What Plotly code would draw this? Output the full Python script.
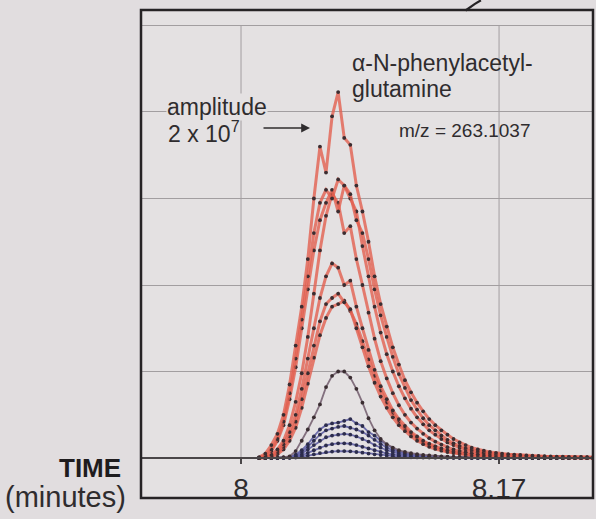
import plotly.graph_objects as go

# ---------------- data ----------------
time_min = [8.012, 8.016, 8.020, 8.024, 8.028, 8.032, 8.036, 8.040, 8.044, 8.048,
            8.052, 8.056, 8.060, 8.064, 8.068, 8.072, 8.076, 8.080, 8.084, 8.088,
            8.092, 8.096, 8.100, 8.104, 8.108, 8.112, 8.116, 8.120, 8.124, 8.128,
            8.132, 8.136, 8.140, 8.144, 8.148, 8.152, 8.156, 8.160, 8.164, 8.168,
            8.172, 8.176, 8.180, 8.184, 8.188, 8.192, 8.196, 8.200, 8.204, 8.208,
            8.212, 8.216, 8.220, 8.224, 8.228, 8.232]

# amplitudes in units of 1 grid division
red_1 = [0.01, 0.05, 0.15, 0.28, 0.5, 0.85, 1.3, 1.75, 2.3, 3.0,
         3.6, 3.3, 3.95, 4.23, 3.7, 3.62, 3.15, 2.85, 2.5, 2.1,
         1.78, 1.52, 1.28, 1.08, 0.9, 0.76, 0.64, 0.54, 0.45, 0.38,
         0.32, 0.27, 0.22, 0.18, 0.15, 0.12, 0.1, 0.085, 0.07, 0.06,
         0.05, 0.045, 0.04, 0.035, 0.03, 0.027, 0.024, 0.021, 0.019, 0.017,
         0.015, 0.014, 0.013, 0.012, 0.011, 0.01]
red_2 = [0.005, 0.03, 0.1, 0.22, 0.42, 0.75, 1.15, 1.6, 2.1, 2.6,
         2.95, 3.1, 3.0, 3.22, 3.15, 3.05, 2.75, 2.6, 2.3, 1.95,
         1.65, 1.4, 1.17, 0.97, 0.81, 0.67, 0.56, 0.46, 0.38, 0.32,
         0.26, 0.21, 0.17, 0.14, 0.115, 0.095, 0.08, 0.066, 0.055, 0.046,
         0.04, 0.035, 0.03, 0.026, 0.023, 0.02, 0.018, 0.016, 0.014, 0.013,
         0.012, 0.011, 0.01, 0.009, 0.008, 0.008]
red_3 = [0.004, 0.02, 0.08, 0.2, 0.38, 0.68, 1.05, 1.5, 1.95, 2.4,
         2.75, 2.95, 3.1, 2.85, 3.15, 3.0, 2.85, 2.45, 2.1, 1.75,
         1.45, 1.2, 1.0, 0.83, 0.69, 0.57, 0.47, 0.39, 0.32, 0.27,
         0.22, 0.18, 0.15, 0.12, 0.1, 0.08, 0.066, 0.055, 0.046, 0.039,
         0.033, 0.028, 0.024, 0.021, 0.018, 0.016, 0.014, 0.013, 0.012, 0.011,
         0.01, 0.009, 0.008, 0.008, 0.007, 0.007]
red_4 = [0.002, 0.01, 0.04, 0.1, 0.2, 0.38, 0.65, 0.98, 1.4, 1.9,
         2.4, 2.8, 3.05, 2.95, 2.6, 2.68, 2.3, 2.0, 1.68, 1.38,
         1.12, 0.92, 0.75, 0.61, 0.5, 0.41, 0.34, 0.28, 0.23, 0.19,
         0.155, 0.125, 0.1, 0.082, 0.067, 0.055, 0.045, 0.037, 0.031, 0.026,
         0.022, 0.019, 0.016, 0.014, 0.012, 0.011, 0.01, 0.009, 0.008, 0.007,
         0.007, 0.006, 0.006, 0.005, 0.005, 0.005]
red_5 = [0.002, 0.008, 0.03, 0.08, 0.16, 0.3, 0.5, 0.8, 1.15, 1.5,
         1.85, 2.1, 2.25, 2.2, 2.0, 2.05, 1.75, 1.5, 1.25, 1.02,
         0.83, 0.68, 0.55, 0.45, 0.37, 0.3, 0.25, 0.2, 0.165, 0.135,
         0.11, 0.09, 0.073, 0.06, 0.05, 0.041, 0.034, 0.028, 0.024, 0.02,
         0.017, 0.015, 0.013, 0.011, 0.01, 0.009, 0.008, 0.007, 0.007, 0.006,
         0.006, 0.005, 0.005, 0.005, 0.004, 0.004]
red_6 = [0.001, 0.005, 0.02, 0.06, 0.13, 0.25, 0.42, 0.68, 0.98, 1.3,
         1.58, 1.78, 1.85, 1.9, 1.8, 1.72, 1.5, 1.28, 1.06, 0.87,
         0.71, 0.58, 0.47, 0.38, 0.31, 0.25, 0.2, 0.16, 0.13, 0.105,
         0.085, 0.07, 0.057, 0.047, 0.039, 0.032, 0.027, 0.022, 0.019, 0.016,
         0.014, 0.012, 0.01, 0.009, 0.008, 0.007, 0.006, 0.006, 0.005, 0.005,
         0.004, 0.004, 0.004, 0.003, 0.003, 0.003]
red_7 = [0.001, 0.004, 0.015, 0.045, 0.1, 0.2, 0.35, 0.58, 0.86, 1.16,
         1.42, 1.62, 1.75, 1.78, 1.82, 1.7, 1.55, 1.35, 1.14, 0.95,
         0.78, 0.64, 0.52, 0.42, 0.34, 0.28, 0.23, 0.18, 0.15, 0.12,
         0.097, 0.079, 0.064, 0.052, 0.043, 0.035, 0.029, 0.024, 0.02, 0.017,
         0.014, 0.012, 0.01, 0.009, 0.008, 0.007, 0.006, 0.006, 0.005, 0.005,
         0.004, 0.004, 0.004, 0.003, 0.003, 0.003]
gray_1 = [0.0, 0.0, 0.002, 0.005, 0.01, 0.02, 0.08, 0.2, 0.33, 0.47,
          0.62, 0.82, 0.95, 1.0, 1.0, 0.93, 0.8, 0.64, 0.46, 0.32,
          0.22, 0.16, 0.12, 0.09, 0.07, 0.055, 0.045, 0.036, 0.03, 0.025,
          0.02, 0.017, 0.014, 0.012, 0.01, 0.009, 0.008, 0.007, 0.006, 0.005,
          0.005, 0.004, 0.004, 0.003, 0.003, 0.003, 0.003, 0.002, 0.002, 0.002,
          0.002, 0.002, 0.002, 0.002, 0.002, 0.002]
blue_1 = [0.0, 0.0, 0.0, 0.002, 0.005, 0.01, 0.04, 0.09, 0.16, 0.25,
          0.33, 0.38, 0.4, 0.41, 0.43, 0.45, 0.4, 0.37, 0.3, 0.26,
          0.2, 0.15, 0.11, 0.08, 0.06, 0.045, 0.035, 0.028, 0.022, 0.018,
          0.015, 0.012, 0.01, 0.008, 0.007, 0.006, 0.005, 0.004, 0.004, 0.003,
          0.003, 0.003, 0.002, 0.002, 0.002, 0.002, 0.002, 0.002, 0.001, 0.001,
          0.001, 0.001, 0.001, 0.001, 0.001, 0.001]
blue_2 = [0.0, 0.0, 0.0, 0.001, 0.004, 0.008, 0.03, 0.07, 0.13, 0.2,
          0.27, 0.32, 0.34, 0.36, 0.37, 0.35, 0.33, 0.3, 0.26, 0.21,
          0.16, 0.12, 0.09, 0.07, 0.05, 0.04, 0.03, 0.024, 0.019, 0.015,
          0.012, 0.01, 0.008, 0.007, 0.006, 0.005, 0.004, 0.003, 0.003, 0.003,
          0.002, 0.002, 0.002, 0.002, 0.002, 0.001, 0.001, 0.001, 0.001, 0.001,
          0.001, 0.001, 0.001, 0.001, 0.001, 0.001]
blue_3 = [0.0, 0.0, 0.0, 0.001, 0.003, 0.006, 0.02, 0.05, 0.1, 0.15,
          0.2, 0.24, 0.26, 0.27, 0.28, 0.27, 0.25, 0.22, 0.19, 0.15,
          0.12, 0.09, 0.07, 0.05, 0.04, 0.03, 0.024, 0.019, 0.015, 0.012,
          0.01, 0.008, 0.006, 0.005, 0.004, 0.004, 0.003, 0.003, 0.002, 0.002,
          0.002, 0.002, 0.001, 0.001, 0.001, 0.001, 0.001, 0.001, 0.001, 0.001,
          0.001, 0.001, 0.001, 0.001, 0.001, 0.001]
blue_4 = [0.0, 0.0, 0.0, 0.0, 0.002, 0.004, 0.012, 0.03, 0.06, 0.09,
          0.12, 0.145, 0.16, 0.17, 0.17, 0.165, 0.15, 0.13, 0.11, 0.09,
          0.07, 0.055, 0.042, 0.032, 0.025, 0.02, 0.016, 0.012, 0.01, 0.008,
          0.006, 0.005, 0.004, 0.003, 0.003, 0.002, 0.002, 0.002, 0.001, 0.001,
          0.001, 0.001, 0.001, 0.001, 0.001, 0.001, 0.001, 0.001, 0.001, 0.001,
          0.001, 0.001, 0.001, 0.001, 0.001, 0.001]
blue_5 = [0.0, 0.0, 0.0, 0.0, 0.001, 0.002, 0.006, 0.015, 0.028, 0.043,
          0.057, 0.068, 0.075, 0.08, 0.08, 0.078, 0.07, 0.062, 0.052, 0.043,
          0.034, 0.027, 0.021, 0.016, 0.012, 0.009, 0.007, 0.006, 0.005, 0.004,
          0.003, 0.003, 0.002, 0.002, 0.002, 0.001, 0.001, 0.001, 0.001, 0.001,
          0.001, 0.001, 0.001, 0.001, 0.001, 0.001, 0.001, 0.001, 0.001, 0.001,
          0.001, 0.001, 0.001, 0.001, 0.001, 0.001]

blue_series = [blue_5, blue_4, blue_3, blue_2, blue_1]
gray_series = [gray_1]
red_series = [red_7, red_6, red_5, red_4, red_3, red_2, red_1]

tick_vals = [8, 8.17]
tick_text = ["8", "8.17"]
grid_levels = [1, 2, 3, 4, 5]

# ---------------- styling ----------------
FONT = "Arial, Liberation Sans, Helvetica, sans-serif"
PAPER_BG = "#e1dddf"
PLOT_BG = "#e4e1e2"
GRID = "#a29ea0"
TXT = "#2f2c2e"
DOT = "#3a2d31"

fig = go.Figure()

def add_curve(ys, line_color, dot_color, width):
    fig.add_trace(go.Scatter(
        x=time_min, y=ys, mode="lines+markers",
        line=dict(color=line_color, width=width),
        marker=dict(color=dot_color, size=3.8, line=dict(width=0)),
        showlegend=False, hoverinfo="skip"))

for ys in blue_series:
    add_curve(ys, "rgba(96,96,165,0.9)", "#2c2c4c", 1.8)
for ys in gray_series:
    add_curve(ys, "rgba(120,100,115,0.9)", DOT, 1.8)
for ys in red_series:
    add_curve(ys, "rgba(226,96,80,0.8)", DOT, 3.0)

x_min, x_max = 7.9341, 8.2319
y_min, y_max = -0.462, 5.179

fig.update_layout(
    width=596, height=519,
    margin=dict(l=141, r=3, t=10, b=21),
    paper_bgcolor=PAPER_BG, plot_bgcolor=PLOT_BG,
    font=dict(family=FONT, color=TXT),
    xaxis=dict(range=[x_min, x_max], showgrid=False, zeroline=False,
               anchor="free", position=(0.462 / (y_max - y_min)),
               showline=True, linecolor="#4a4648", linewidth=2,
               tickvals=tick_vals, ticktext=tick_text,
               ticks="outside", ticklen=5, tickcolor="#4a4648", tickwidth=1.5,
               tickfont=dict(size=28, family=FONT, color=TXT)),
    yaxis=dict(range=[y_min, y_max], showgrid=True, gridcolor=GRID, gridwidth=1.3,
               tickvals=grid_levels, showticklabels=False, zeroline=False,
               ticks=""),
)

shapes = []
# vertical grid lines (from baseline up to the top grid line)
for tv in tick_vals:
    shapes.append(dict(type="line", xref="x", yref="y", x0=tv, x1=tv, y0=0, y1=5,
                       line=dict(color=GRID, width=1), layer="below"))
# frame
shapes.append(dict(type="rect", xref="paper", yref="paper", x0=0, x1=1, y0=0, y1=1,
                   line=dict(color="#262325", width=2.5)))
# cut-off stroke at top
shapes.append(dict(type="path", xref="paper", yref="paper",
                   path="M 0.718,0.999 L 0.738,1.012 L 0.752,1.02",
                   line=dict(color="#262325", width=2.2)))
fig.update_layout(shapes=shapes)

def px(xp):
    return (xp - 141) / 452.0

def py(yp):
    return (498 - yp) / 488.0

ann = []
ann.append(dict(xref="paper", yref="paper", x=px(350), y=py(63), xanchor="left", yanchor="middle",
                text="α-N-phenylacetyl-", showarrow=False, font=dict(size=23, family=FONT, color=TXT)))
ann.append(dict(xref="paper", yref="paper", x=px(350), y=py(89), xanchor="left", yanchor="middle",
                text="glutamine", showarrow=False, font=dict(size=23, family=FONT, color=TXT)))
ann.append(dict(xref="paper", yref="paper", x=px(166), y=py(107), xanchor="left", yanchor="middle",
                text="amplitude", showarrow=False, bgcolor=PLOT_BG, borderpad=0,
                font=dict(size=23, family=FONT, color=TXT)))
ann.append(dict(xref="paper", yref="paper", x=px(166), y=py(132), xanchor="left", yanchor="middle",
                text="2 x 10<sup>7</sup>", showarrow=False, font=dict(size=23, family=FONT, color=TXT)))
ann.append(dict(xref="paper", yref="paper", x=px(310), y=py(128), ax=-48, ay=0,
                text="", showarrow=True, arrowhead=2, arrowsize=1.1, arrowwidth=1.6,
                arrowcolor="#2f2c2e"))
ann.append(dict(xref="paper", yref="paper", x=px(397), y=py(130), xanchor="left", yanchor="middle",
                text="m/z = 263.1037", showarrow=False, font=dict(size=19, family=FONT, color=TXT)))
ann.append(dict(xref="paper", yref="paper", x=px(123), y=py(468), xanchor="right", yanchor="middle",
                text="<b>TIME</b>", showarrow=False, font=dict(size=26, family=FONT, color="#1f1c1e")))
ann.append(dict(xref="paper", yref="paper", x=px(128), y=py(497), xanchor="right", yanchor="middle",
                text="(minutes)", showarrow=False, font=dict(size=29, family=FONT, color=TXT)))
fig.update_layout(annotations=ann)

fig.write_html("out.html", config={"displayModeBar": False},
               post_script="document.body.style.margin='0';document.body.style.overflow='hidden';")
